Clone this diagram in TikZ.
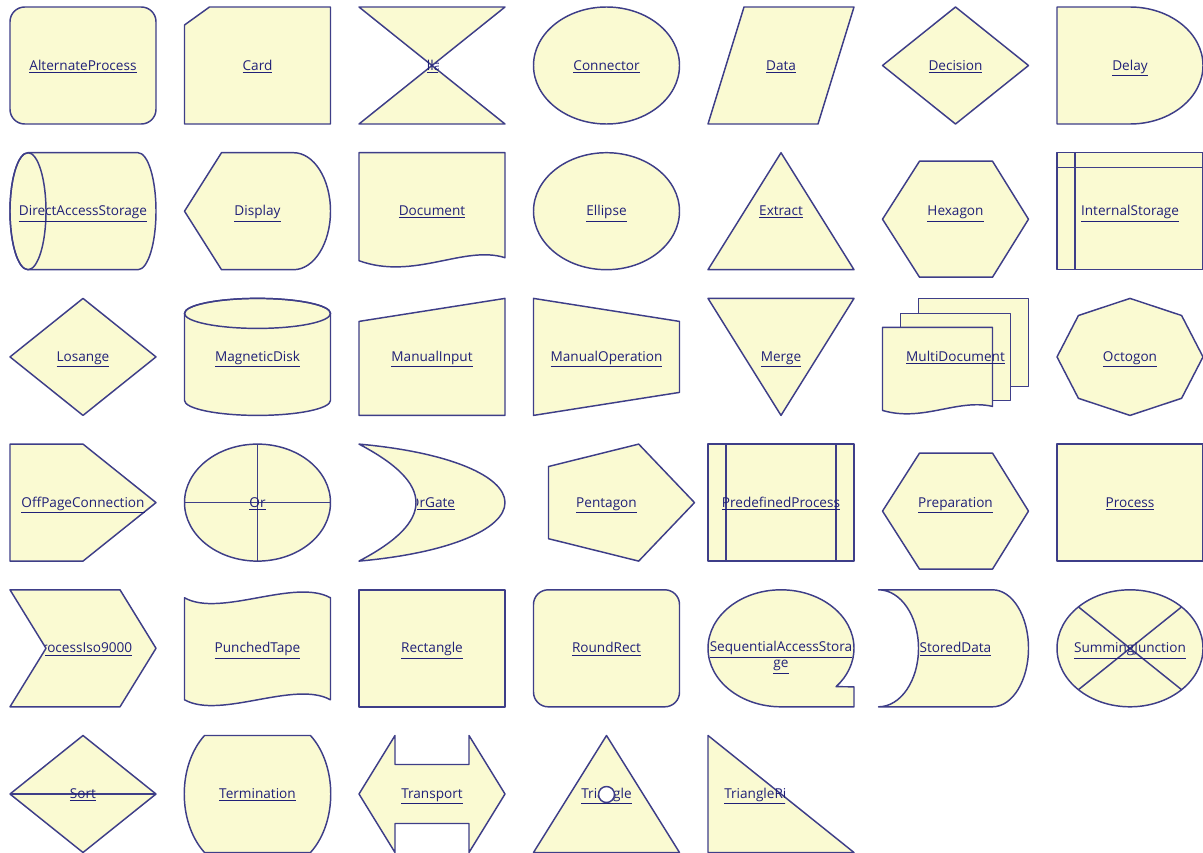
\documentclass[tikz,border=0pt]{standalone}
\usepackage{fontspec}
\setmainfont{Open Sans}
\usepackage{xcolor}
\definecolor{symfill}{RGB}{250,250,210}
\definecolor{symline}{RGB}{62,62,136}
\definecolor{symink}{RGB}{32,32,120}
\tikzset{
  flowshape/.style={draw=symline, fill=symfill, line width=1.1pt, line join=round},
  flowline/.style={draw=symline, line width=1.1pt},
  flowtext/.style={text=symink, font=\fontsize{10.2}{12.5}\selectfont, inner sep=0pt, anchor=base},
  cell/.style 2 args={shift={({10+174.5*#1},{7+145.7*#2})}},
}

\begin{document}
\begin{tikzpicture}[x=0.75pt, y=-0.75pt]
  \useasboundingbox (0,0) rectangle (1203,853);

  % first row
  \begin{scope}[cell={0}{0}]
    \draw[flowshape, rounded corners=11pt] (0,0) rectangle (146,117);
    \node[flowtext] (alternateprocess) at (73,63) {\underline{AlternateProcess}};
  \end{scope}
  \begin{scope}[cell={1}{0}]
    \draw[flowshape] (0,18) -- (25,0) -- (146,0) -- (146,117) -- (0,117) -- cycle;
    \node[flowtext] (card) at (73,63) {\underline{Card}};
  \end{scope}
  \begin{scope}[cell={2}{0}]
    \draw[flowshape] (0,0) -- (146,0) -- (0,117) -- (146,117) -- cycle;
    \begin{scope}
      \clip (68,40) rectangle (79,75);
      \node[flowtext] (collate) at (73,63) {\underline{Collate}};
    \end{scope}
  \end{scope}
  \begin{scope}[cell={3}{0}]
    \draw[flowshape] (73,58.5) ellipse [x radius=73, y radius=58.5];
    \node[flowtext] (connector) at (73,63) {\underline{Connector}};
  \end{scope}
  \begin{scope}[cell={4}{0}]
    \draw[flowshape] (0,117) -- (36,0) -- (146,0) -- (110,117) -- cycle;
    \node[flowtext] (data) at (73,63) {\underline{Data}};
  \end{scope}
  \begin{scope}[cell={5}{0}]
    \draw[flowshape] (0,58.5) -- (73,0) -- (146,58.5) -- (73,117) -- cycle;
    \node[flowtext] (decision) at (73,63) {\underline{Decision}};
  \end{scope}
  \begin{scope}[cell={6}{0}]
    \draw[flowshape] (0,0) -- (73,0) arc[start angle=-90, end angle=90, x radius=73, y radius=58.5] -- (0,117) -- cycle;
    \node[flowtext] (delay) at (73,63) {\underline{Delay}};
  \end{scope}

  % second row
  \begin{scope}[cell={0}{1}]
    \draw[flowshape] (18,0) -- (128,0) arc[start angle=-90, end angle=90, x radius=18, y radius=58.5]
      -- (18,117) arc[start angle=90, end angle=270, x radius=18, y radius=58.5] -- cycle;
    \draw[flowline] (18,58.5) ellipse [x radius=18, y radius=58.5];
    \node[flowtext] (directaccessstorage) at (73,63) {\underline{DirectAccessStorage}};
  \end{scope}
  \begin{scope}[cell={1}{1}]
    \draw[flowshape] (0,58.5) -- (37,0) -- (109,0) arc[start angle=-90, end angle=90, x radius=37, y radius=58.5] -- (37,117) -- cycle;
    \node[flowtext] (display) at (73,63) {\underline{Display}};
  \end{scope}
  \begin{scope}[cell={2}{1}]
    \draw[flowshape] (0,0) -- (146,0) -- (146,105) .. controls (105,92) and (55,128) .. (0,108) -- cycle;
    \node[flowtext] (document) at (73,63) {\underline{Document}};
  \end{scope}
  \begin{scope}[cell={3}{1}]
    \draw[flowshape] (73,58.5) ellipse [x radius=73, y radius=58.5];
    \node[flowtext] (ellipse) at (73,63) {\underline{Ellipse}};
  \end{scope}
  \begin{scope}[cell={4}{1}]
    \draw[flowshape] (0,117) -- (73,0) -- (146,117) -- cycle;
    \node[flowtext] (extract) at (73,63) {\underline{Extract}};
  \end{scope}
  \begin{scope}[cell={5}{1}]
    \draw[flowshape] (0,66.5) -- (37,8.5) -- (110,8.5) -- (146,66.5) -- (110,124.5) -- (37,124.5) -- cycle;
    \node[flowtext] (hexagon) at (73,63) {\underline{Hexagon}};
  \end{scope}
  \begin{scope}[cell={6}{1}]
    \draw[flowshape] (0,0) rectangle (146,117);
    \draw[flowline] (18,0) -- (18,117) (0,15) -- (146,15);
    \node[flowtext] (internalstorage) at (73,63) {\underline{InternalStorage}};
  \end{scope}

  % third row
  \begin{scope}[cell={0}{2}]
    \draw[flowshape] (0,58.5) -- (73,0) -- (146,58.5) -- (73,117) -- cycle;
    \node[flowtext] (losange) at (73,63) {\underline{Losange}};
  \end{scope}
  \begin{scope}[cell={1}{2}]
    \draw[flowshape] (0,15) -- (0,102) arc[start angle=180, end angle=0, x radius=73, y radius=15]
      -- (146,15) arc[start angle=0, end angle=-180, x radius=73, y radius=15] -- cycle;
    \draw[flowline] (73,15) ellipse [x radius=73, y radius=15];
    \node[flowtext] (magneticdisk) at (73,63) {\underline{MagneticDisk}};
  \end{scope}
  \begin{scope}[cell={2}{2}]
    \draw[flowshape] (0,23) -- (146,0) -- (146,117) -- (0,117) -- cycle;
    \node[flowtext] (manualinput) at (73,63) {\underline{ManualInput}};
  \end{scope}
  \begin{scope}[cell={3}{2}]
    \draw[flowshape] (0,0) -- (146,23) -- (146,94) -- (0,117) -- cycle;
    \node[flowtext] (manualoperation) at (73,63) {\underline{ManualOperation}};
  \end{scope}
  \begin{scope}[cell={4}{2}]
    \draw[flowshape] (0,0) -- (146,0) -- (73,117) -- cycle;
    \node[flowtext] (merge) at (73,63) {\underline{Merge}};
  \end{scope}
  \begin{scope}[cell={5}{2}]
    \draw[flowshape] (36,0) rectangle (146,88);
    \draw[flowshape] (18,15) rectangle (128,102);
    \draw[flowshape] (0,29) -- (110,29) -- (110,108) .. controls (75,100) and (40,124) .. (0,112) -- cycle;
    \node[flowtext] (multidocument) at (73,63) {\underline{MultiDocument}};
  \end{scope}
  \begin{scope}[cell={6}{2}]
    \draw[flowshape] (146,58.5) -- (124.6,99.9) -- (73,117) -- (21.4,99.9) -- (0,58.5)
      -- (21.4,17.1) -- (73,0) -- (124.6,17.1) -- cycle;
    \node[flowtext] (octogon) at (73,63) {\underline{Octogon}};
  \end{scope}

  % fourth row
  \begin{scope}[cell={0}{3}]
    \draw[flowshape] (0,0) -- (73,0) -- (146,58.5) -- (73,117) -- (0,117) -- cycle;
    \node[flowtext] (offpageconnection) at (73,63) {\underline{OffPageConnection}};
  \end{scope}
  \begin{scope}[cell={1}{3}]
    \draw[flowshape] (73,58.5) ellipse [x radius=73, y radius=58.5];
    \draw[flowline] (73,0) -- (73,117) (0,58.5) -- (146,58.5);
    \node[flowtext] (or) at (73,63) {\underline{Or}};
  \end{scope}
  \begin{scope}[cell={2}{3}]
    \draw[flowshape] (0,0) .. controls (90,8) and (146,32) .. (146,58.5)
      .. controls (146,85) and (90,109) .. (0,117)
      .. controls (38,97) and (57,78) .. (57,58.5)
      .. controls (57,39) and (38,20) .. (0,0) -- cycle;
    \begin{scope}
      \clip (58,0) rectangle (146,117);
      \node[flowtext] (orgate) at (73,63) {\underline{OrGate}};
    \end{scope}
  \end{scope}
  \begin{scope}[cell={3}{3}]
    \draw[flowshape] (161,58.5) -- (105.2,117) -- (15,94.6) -- (15,22.4) -- (105.2,0) -- cycle;
    \node[flowtext] (pentagon) at (73,63) {\underline{Pentagon}};
  \end{scope}
  \begin{scope}[cell={4}{3}]
    \draw[flowshape] (0,0) rectangle (146,117);
    \draw[flowline] (18,0) -- (18,117) (128,0) -- (128,117);
    \node[flowtext] (predefinedprocess) at (73,63) {\underline{PredefinedProcess}};
  \end{scope}
  \begin{scope}[cell={5}{3}]
    \draw[flowshape] (0,67) -- (37,9) -- (110,9) -- (146,67) -- (110,125) -- (37,125) -- cycle;
    \node[flowtext] (preparation) at (73,63) {\underline{Preparation}};
  \end{scope}
  \begin{scope}[cell={6}{3}]
    \draw[flowshape] (0,0) rectangle (146,117);
    \node[flowtext] (process) at (73,63) {\underline{Process}};
  \end{scope}

  % fifth row
  \begin{scope}[cell={0}{4}]
    \draw[flowshape] (0,0) -- (110,0) -- (146,58.5) -- (110,117) -- (0,117) -- (36,58.5) -- cycle;
    \begin{scope}
      \clip (35,0) rectangle (146,117);
      \node[flowtext] (processiso) at (73,63) {\underline{ProcessIso9000}};
    \end{scope}
  \end{scope}
  \begin{scope}[cell={1}{4}]
    \draw[flowshape] (0,8) .. controls (36,28) and (110,-12) .. (146,8) -- (146,110)
      .. controls (110,90) and (36,130) .. (0,110) -- cycle;
    \node[flowtext] (punchedtape) at (73,63) {\underline{PunchedTape}};
  \end{scope}
  \begin{scope}[cell={2}{4}]
    \draw[flowshape] (0,0) rectangle (146,117);
    \node[flowtext] (rectangle) at (73,63) {\underline{Rectangle}};
  \end{scope}
  \begin{scope}[cell={3}{4}]
    \draw[flowshape, rounded corners=11pt] (0,0) rectangle (146,117);
    \node[flowtext] (roundrect) at (73,63) {\underline{RoundRect}};
  \end{scope}
  \begin{scope}[cell={4}{4}]
    \draw[flowshape] (146,117) -- (73,117) arc[start angle=90, end angle=401, x radius=73, y radius=58.5] -- (146,97) -- cycle;
    \node[flowtext] (sequentialaccessstorage) at (73,62) {\underline{SequentialAccessStora}};
    \node[flowtext] (sequentialaccessstoragewrap) at (73,78) {\underline{ge}};
  \end{scope}
  \begin{scope}[cell={5}{4}]
    \draw[flowshape] (-4,0) -- (110,0) arc[start angle=-90, end angle=90, x radius=36, y radius=58.5]
      -- (-4,117) arc[start angle=90, end angle=-90, x radius=40, y radius=58.5] -- cycle;
    \node[flowtext] (storeddata) at (73,63) {\underline{StoredData}};
  \end{scope}
  \begin{scope}[cell={6}{4}]
    \draw[flowshape] (73,58.5) ellipse [x radius=73, y radius=58.5];
    \draw[flowline] (21.4,17.1) -- (124.6,99.9) (124.6,17.1) -- (21.4,99.9);
    \node[flowtext] (summingjunction) at (73,63) {\underline{SummingJunction}};
  \end{scope}

  % sixth row
  \begin{scope}[cell={0}{5}]
    \draw[flowshape] (0,58.5) -- (73,0) -- (146,58.5) -- (73,117) -- cycle;
    \draw[flowline] (0,58.5) -- (146,58.5);
    \node[flowtext] (sort) at (73,63) {\underline{Sort}};
  \end{scope}
  \begin{scope}[cell={1}{5}]
    \draw[flowshape] (20,0) -- (126,0) .. controls (153,30) and (153,87) .. (126,117)
      -- (20,117) .. controls (-7,87) and (-7,30) .. (20,0) -- cycle;
    \node[flowtext] (termination) at (73,63) {\underline{Termination}};
  \end{scope}
  \begin{scope}[cell={2}{5}]
    \draw[flowshape] (0,58.5) -- (36,0) -- (36,29) -- (110,29) -- (110,0) -- (146,58.5)
      -- (110,117) -- (110,88) -- (36,88) -- (36,117) -- cycle;
    \node[flowtext] (transport) at (73,63) {\underline{Transport}};
  \end{scope}
  \begin{scope}[cell={3}{5}]
    \draw[flowshape] (0,117) -- (73,0) -- (146,117) -- cycle;
    \node[flowtext] (triangle) at (73,63) {\underline{Triangle}};
    \draw[flowline, fill=white] (73,59) circle [radius=8];
  \end{scope}
  \begin{scope}[cell={4}{5}]
    \draw[flowshape] (0,0) -- (146,117) -- (0,117) -- cycle;
    \begin{scope}
      \clip (0,0) rectangle (77,117);
      \node[flowtext, anchor=base west] (triangleright) at (16,63) {\underline{TriangleRight}};
    \end{scope}
  \end{scope}
\end{tikzpicture}
\end{document}
